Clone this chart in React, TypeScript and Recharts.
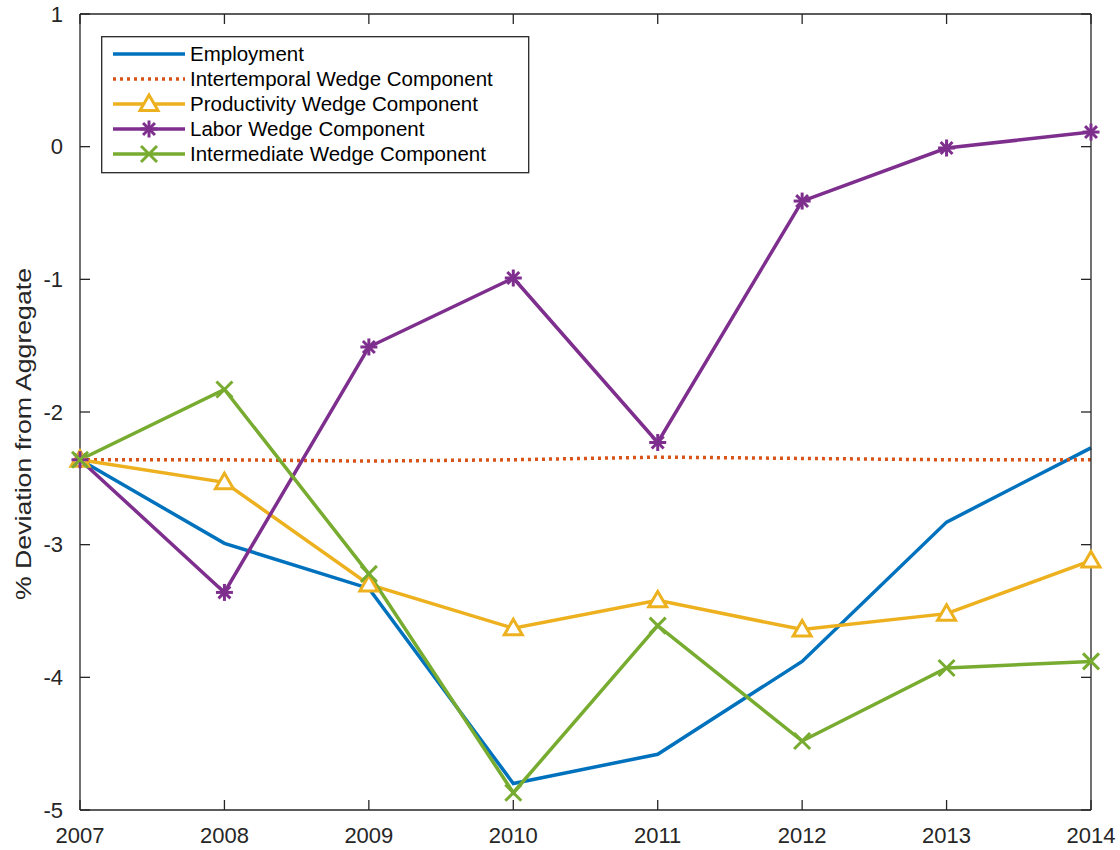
import React from "react";
import { LineChart, Line, XAxis, YAxis } from "recharts";

const years = [2007, 2008, 2009, 2010, 2011, 2012, 2013, 2014];
const employment = [-2.36, -2.99, -3.33, -4.8, -4.58, -3.88, -2.83, -2.27];
const intertemporal = [-2.36, -2.36, -2.37, -2.36, -2.34, -2.35, -2.36, -2.36];
const productivity = [-2.36, -2.53, -3.3, -3.63, -3.42, -3.64, -3.52, -3.12];
const labor = [-2.36, -3.36, -1.51, -0.99, -2.23, -0.41, -0.01, 0.11];
const intermediate = [-2.36, -1.83, -3.22, -4.87, -3.61, -4.48, -3.93, -3.88];
const yTicks = [-5, -4, -3, -2, -1, 0, 1];

const data = years.map((year, i) => ({
  year,
  employment: employment[i],
  intertemporal: intertemporal[i],
  productivity: productivity[i],
  labor: labor[i],
  intermediate: intermediate[i],
}));

const FONT = "'Liberation Sans', Arial, Helvetica, sans-serif";
const AXIS = "#262626";
const C = {
  employment: "#0072BD",
  intertemporal: "#D95319",
  productivity: "#EDB120",
  labor: "#7E2F8E",
  intermediate: "#77AC30",
};

type Marker = "triangle" | "asterisk" | "x" | null;

function drawMarker(kind: Marker, cx: number, cy: number, color: string) {
  if (kind === "triangle") {
    const s = 9;
    const pts = `${cx},${cy - s} ${cx + s},${cy + s * 0.72} ${cx - s},${cy + s * 0.72}`;
    return <polygon points={pts} fill="white" stroke={color} strokeWidth={3} />;
  }
  if (kind === "asterisk") {
    const s = 8.5;
    const d = s * 0.7;
    return (
      <g stroke={color} strokeWidth={3}>
        <line x1={cx - s} y1={cy} x2={cx + s} y2={cy} />
        <line x1={cx} y1={cy - s} x2={cx} y2={cy + s} />
        <line x1={cx - d} y1={cy - d} x2={cx + d} y2={cy + d} />
        <line x1={cx - d} y1={cy + d} x2={cx + d} y2={cy - d} />
      </g>
    );
  }
  if (kind === "x") {
    const s = 8;
    return (
      <g stroke={color} strokeWidth={3}>
        <line x1={cx - s} y1={cy - s} x2={cx + s} y2={cy + s} />
        <line x1={cx - s} y1={cy + s} x2={cx + s} y2={cy - s} />
      </g>
    );
  }
  return null;
}

const markerDot = (kind: Marker, color: string) => (props: any) => {
  const { cx, cy, index } = props;
  if (cx == null || cy == null) return <g key={`e-${index}`} />;
  return <g key={`m-${index}`}>{drawMarker(kind, cx, cy, color)}</g>;
};

const legendItems: { name: string; color: string; dash?: string; marker: Marker }[] = [
  { name: "Employment", color: C.employment, marker: null },
  { name: "Intertemporal Wedge Component", color: C.intertemporal, dash: "3 4", marker: null },
  { name: "Productivity Wedge Component", color: C.productivity, marker: "triangle" },
  { name: "Labor Wedge Component", color: C.labor, marker: "asterisk" },
  { name: "Intermediate Wedge Component", color: C.intermediate, marker: "x" },
];

function LegendBox() {
  return (
    <svg width={429} height={138} style={{ display: "block" }}>
      <rect x={0.7} y={0.7} width={427} height={136} fill="white" stroke={AXIS} strokeWidth={1.3} />
      {legendItems.map((it, i) => {
        const y = 18 + i * 25;
        return (
          <g key={it.name}>
            <line x1={12} x2={84} y1={y} y2={y} stroke={it.color} strokeWidth={3.5} strokeDasharray={it.dash} />
            {drawMarker(it.marker, 48, y, it.color)}
            <text x={89} y={y} dy="0.36em" fontSize={20.5} fontFamily={FONT} fill="#000">
              {it.name}
            </text>
          </g>
        );
      })}
    </svg>
  );
}

const YLabel = (props: any) => {
  const { viewBox } = props;
  const cy = viewBox.y + viewBox.height / 2 + 22;
  const cx = 23;
  return (
    <text
      x={cx}
      y={cy}
      transform={`rotate(-90 ${cx} ${cy})`}
      textAnchor="middle"
      dominantBaseline="central"
      fontSize={22}
      textLength={332}
      lengthAdjust="spacingAndGlyphs"
      fontFamily={FONT}
      fill={AXIS}
    >
      % Deviation from Aggregate
    </text>
  );
};

const noLabel = () => <g />;
const tickStyle = { fill: AXIS, fontSize: 22, fontFamily: FONT };
const axisLine = { stroke: AXIS, strokeWidth: 1.3 };

export default function App() {
  return (
    <div style={{ position: "absolute", left: 0, top: 0, width: 1120, height: 850, background: "white" }}>
      <LineChart width={1120} height={850} data={data} margin={{ top: 13, right: 28, bottom: 0, left: 0 }}>
        <XAxis
          dataKey="year"
          type="number"
          domain={[2007, 2014]}
          ticks={years}
          height={40}
          tick={tickStyle}
          axisLine={axisLine}
          tickLine={axisLine}
          tickSize={-10}
          tickMargin={27}
          interval={0}
        />
        <XAxis
          xAxisId="top"
          orientation="top"
          dataKey="year"
          type="number"
          domain={[2007, 2014]}
          ticks={years}
          height={1}
          tick={noLabel}
          axisLine={axisLine}
          tickLine={axisLine}
          tickSize={-10}
          interval={0}
        />
        <YAxis
          type="number"
          domain={[-5, 1]}
          ticks={yTicks}
          width={80}
          tick={tickStyle}
          axisLine={axisLine}
          tickLine={axisLine}
          tickSize={-10}
          tickMargin={27}
          interval={0}
          label={<YLabel />}
        />
        <YAxis
          yAxisId="right"
          orientation="right"
          type="number"
          domain={[-5, 1]}
          ticks={yTicks}
          width={1}
          tick={noLabel}
          axisLine={axisLine}
          tickLine={axisLine}
          tickSize={-10}
          interval={0}
        />
        {/* invisible series so the top and right frame axes are drawn */}
        <Line
          xAxisId="top"
          yAxisId="right"
          dataKey="intertemporal"
          stroke="none"
          dot={false}
          activeDot={false}
          isAnimationActive={false}
        />
        <Line
          dataKey="employment"
          type="linear"
          stroke={C.employment}
          strokeWidth={3.5}
          dot={false}
          activeDot={false}
          isAnimationActive={false}
        />
        <Line
          dataKey="intertemporal"
          type="linear"
          stroke={C.intertemporal}
          strokeWidth={3.5}
          strokeDasharray="3 4"
          dot={false}
          activeDot={false}
          isAnimationActive={false}
        />
        <Line
          dataKey="productivity"
          type="linear"
          stroke={C.productivity}
          strokeWidth={3.5}
          dot={markerDot("triangle", C.productivity)}
          activeDot={false}
          isAnimationActive={false}
        />
        <Line
          dataKey="labor"
          type="linear"
          stroke={C.labor}
          strokeWidth={3.5}
          dot={markerDot("asterisk", C.labor)}
          activeDot={false}
          isAnimationActive={false}
        />
        <Line
          dataKey="intermediate"
          type="linear"
          stroke={C.intermediate}
          strokeWidth={3.5}
          dot={markerDot("x", C.intermediate)}
          activeDot={false}
          isAnimationActive={false}
        />
      </LineChart>
      <div style={{ position: "absolute", left: 101, top: 36 }}>
        <LegendBox />
      </div>
    </div>
  );
}
